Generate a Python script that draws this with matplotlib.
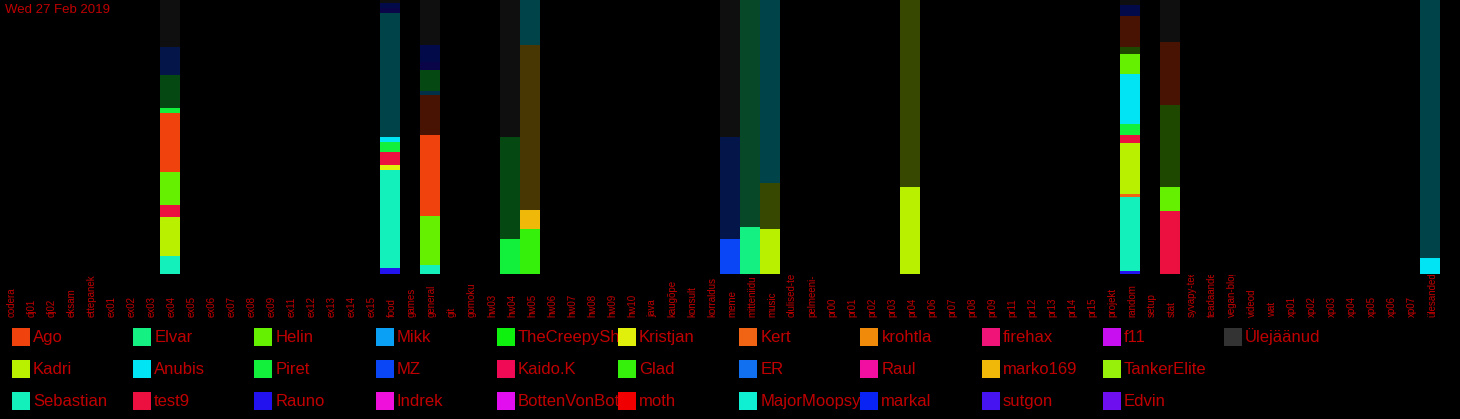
"""Channel activity chart — stacked share of messages per user, dark theme."""
import matplotlib
matplotlib.use("Agg")
import matplotlib.pyplot as plt
from matplotlib.patches import Rectangle
from matplotlib.transforms import blended_transform_factory, Bbox, TransformedBbox

plt.rcParams["font.family"] = ["Liberation Sans", "DejaVu Sans"]

# ── Data ──────────────────────────────────────────────────────────────────────
TITLE = "Wed 27 Feb 2019"

CHANNELS = [
    "codera", "dj01", "dj02", "eksam", "ettepanek", "ex01", "ex02", "ex03",
    "ex04", "ex05", "ex06", "ex07", "ex08", "ex09", "ex11", "ex12", "ex13",
    "ex14", "ex15", "food", "games", "general", "git", "gomoku", "hw03",
    "hw04", "hw05", "hw06", "hw07", "hw08", "hw09", "hw10", "java",
    "kaugõpe", "konsult", "korraldus", "meme", "mitteniidu", "music",
    "olulised-teated", "pelmeeni-", "pr00", "pr01", "pr02", "pr03", "pr04",
    "pr06", "pr07", "pr08", "pr09", "pr11", "pr12", "pr13", "pr14", "pr15",
    "projekt", "random", "setup", "stat", "syvapy-teemad", "teadaanded",
    "vegan-blogi", "videod", "wat", "xp01", "xp02", "xp03", "xp04", "xp05",
    "xp06", "xp07", "ülesanded",
]

# legend names as shown (long ones are cut at the column edge)
USERS = [
    "Ago", "Kadri", "Sebastian", "Elvar", "Anubis", "test9", "Helin",
    "Piret", "Rauno", "Mikk", "MZ", "Indrek", "TheCreepySh", "Kaido.K",
    "BottenVonBot", "Kristjan", "Glad", "moth", "Kert", "ER", "MajorMoopsy",
    "krohtla", "Raul", "markal", "firehax", "marko169", "sutgon", "f11",
    "TankerElite", "Edvin", "Ülejäänud",
]
USER_COLORS = [
    "#f0420c", "#b9f000", "#14f0bc", "#14f082", "#00e4f4", "#ec1040",
    "#64f000", "#12f03c", "#2212f0", "#0aa0f5", "#0a46f5", "#f010dc",
    "#0ef00e", "#f00a55", "#e20ef0", "#e1f00a", "#34f00a", "#f00000",
    "#f06414", "#1070f0", "#0ff0d2", "#f08a0a", "#f00fa0", "#0a23f5",
    "#f01478", "#f0b90a", "#4614f0", "#c80ff0", "#96f00a", "#6e0ff0",
    "#333333",
]

# messages today (bright) and earlier (dim), bottom-up, per active channel
TODAY = {
    "ex04": [("Sebastian", 18), ("Kadri", 39), ("test9", 12), ("Helin", 33),
             ("Ago", 59), ("Piret", 5)],
    "food": [("Rauno", 6), ("Sebastian", 98), ("Kristjan", 5), ("test9", 13),
             ("Piret", 10), ("Anubis", 5)],
    "general": [("Sebastian", 9), ("Helin", 49), ("Ago", 81)],
    "hw04": [("Piret", 35)],
    "hw05": [("Glad", 45), ("marko169", 19)],
    "meme": [("MZ", 35)],
    "mitteniidu": [("Elvar", 47)],
    "music": [("Kadri", 45)],
    "pr04": [("Kadri", 87)],
    "random": [("Rauno", 3), ("Sebastian", 74), ("Kert", 3), ("Kadri", 51),
               ("test9", 8), ("Piret", 11), ("Anubis", 50), ("Helin", 20)],
    "stat": [("test9", 63), ("Helin", 24)],
    "ülesanded": [("Anubis", 16)],
}
EARLIER = {
    "ex04": [("Piret", 33), ("MZ", 28), ("Ülejäänud", 47)],
    "food": [("Anubis", 124), ("Rauno", 5), ("markal", 5), ("Ülejäänud", 3)],
    "general": [("Ago", 40), ("Mikk", 4), ("Piret", 21), ("Rauno", 8),
                ("markal", 17), ("Ülejäänud", 45)],
    "hw04": [("Piret", 102), ("Ülejäänud", 137)],
    "hw05": [("marko169", 165), ("Anubis", 45)],
    "meme": [("MZ", 102), ("Ülejäänud", 137)],
    "mitteniidu": [("Elvar", 227)],
    "music": [("Kadri", 46), ("Anubis", 183)],
    "pr04": [("Kadri", 187)],
    "random": [("Helin", 7), ("Ago", 31), ("markal", 11), ("Ülejäänud", 5)],
    "stat": [("Helin", 82), ("Ago", 63), ("Ülejäänud", 42)],
    "ülesanded": [("Anubis", 258)],
}

# ── Style ─────────────────────────────────────────────────────────────────────
BG = "#000000"
TXT = "#c00000"
W, H = 1460, 419
BAR_BOTTOM_PX = 274

color_of = dict(zip(USERS, USER_COLORS))
color_of["TheCreepySheep"] = color_of["TheCreepySh"]

fig = plt.figure(figsize=(W / 100, H / 100), dpi=100, facecolor=BG)
ax = fig.add_axes([0, 1 - BAR_BOTTOM_PX / H, 1, BAR_BOTTOM_PX / H])
ax.set_facecolor(BG)
ax.set_xlim(-0.5, len(CHANNELS) + 0.5)
ax.set_ylim(0, 1)
ax.axis("off")

for i, ch in enumerate(CHANNELS):
    today = TODAY.get(ch, [])
    earlier = EARLIER.get(ch, [])
    total = sum(v for _, v in today) + sum(v for _, v in earlier)
    if not total:
        continue
    bottom = 0.0
    for user, v in today:
        ax.bar(i, v / total, bottom=bottom, width=1.0,
               color=color_of[user], linewidth=0)
        bottom += v / total
    for user, v in earlier:
        ax.bar(i, v / total, bottom=bottom, width=1.0,
               color=color_of[user], alpha=0.3, linewidth=0)
        bottom += v / total

# channel labels, clipped just under the bars
trans = blended_transform_factory(ax.transData, fig.transFigure)
clip = TransformedBbox(Bbox([[0, 0], [1, 1 - (BAR_BOTTOM_PX + 1) / H]]),
                       fig.transFigure)
for i, ch in enumerate(CHANNELS):
    t = ax.text(i + 0.1, 1 - 317 / H, ch, transform=trans, rotation=90,
                ha="center", va="bottom", fontsize=7, color=TXT)
    t.set_clip_box(clip)
    t.set_clip_on(True)

fig.text(5 / W, 1 - 4 / H, TITLE, ha="left", va="top",
         fontsize=9.5, color=TXT)

# legend: 3 rows, filled column by column
col_w = 121.2
for k, (user, c) in enumerate(zip(USERS, USER_COLORS)):
    col, row = divmod(k, 3)
    x0 = 12 + col * col_w
    yc = 337 + row * 32
    fig.patches.append(Rectangle((x0 / W, 1 - (yc + 9) / H), 18 / W, 18 / H,
                                 transform=fig.transFigure, facecolor=c,
                                 edgecolor="none"))
    t = fig.text((x0 + 21) / W, 1 - yc / H, user, ha="left", va="center",
                 fontsize=12, color=TXT)
    t.set_clip_box(TransformedBbox(
        Bbox([[0, 0], [(x0 + col_w) / W, 1]]), fig.transFigure))
    t.set_clip_on(True)

fig.savefig("out.png", dpi=100, facecolor=BG)
